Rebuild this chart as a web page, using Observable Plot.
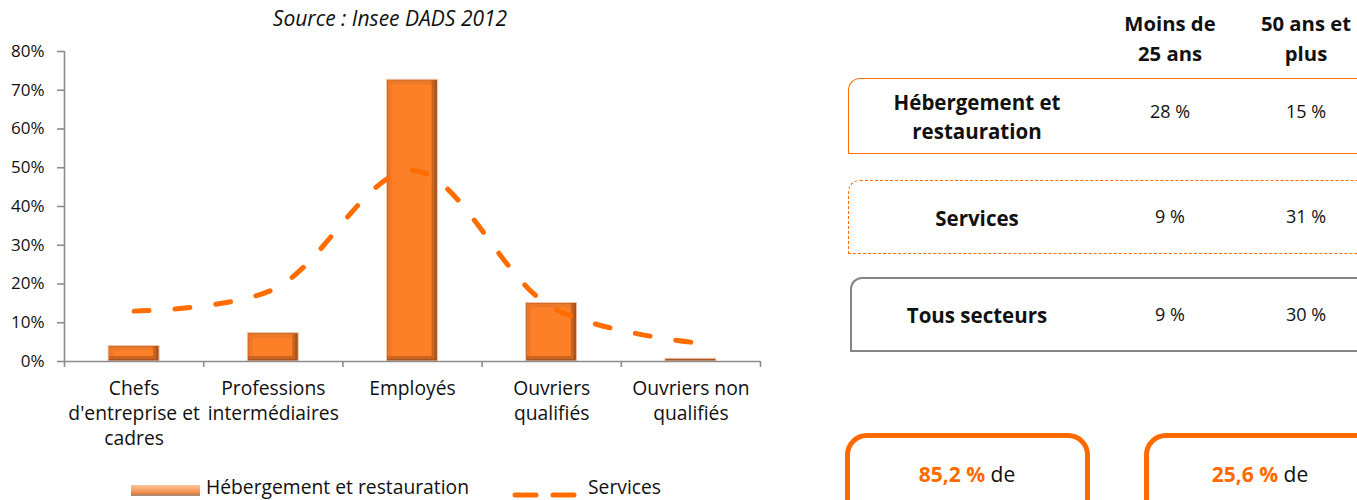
<!DOCTYPE html>
<html><head><meta charset="utf-8">
<script src="https://cdn.jsdelivr.net/npm/d3@7"></script>
<script src="https://cdn.jsdelivr.net/npm/@observablehq/plot@0.6"></script>
<style>
body{margin:0;background:#fff;font-family:"Open Sans",sans-serif;color:#111;}
#wrap{position:relative;width:1357px;height:500px;overflow:hidden;background:#fff;}
.abs{position:absolute;}
#title{left:0;width:780px;top:3px;text-align:center;font-style:italic;font-size:21px;line-height:30px;}
#chart{left:0;top:0;}
.hdr{font-weight:bold;font-size:20.3px;line-height:30px;text-align:center;width:160px;white-space:pre;}
.rowbox{box-sizing:border-box;width:700px;border-top-left-radius:12px;}
.lbl{font-weight:bold;font-size:20.5px;line-height:29px;text-align:center;width:260px;white-space:pre;}
.val{font-size:18px;text-align:center;width:120px;}
.kbox{box-sizing:border-box;border:5px solid #ff6a00;border-radius:22px;height:120px;}
.ktxt{font-size:21px;text-align:center;width:240px;}
.ktxt b{color:#ff6a00;}
.leg{font-size:19.3px;line-height:19px;top:477px;white-space:nowrap;}
</style></head><body><div id="wrap"></div>
<script>
// ---- Data ----
const categories = ["Chefs\nd'entreprise et\ncadres", "Professions\nintermédiaires", "Employés", "Ouvriers\nqualifiés", "Ouvriers non\nqualifiés"];
const hebergement = [0.040, 0.073, 0.727, 0.151, 0.007];
const services = [0.130, 0.186, 0.493, 0.140, 0.050];
const yTicks = [0, 0.1, 0.2, 0.3, 0.4, 0.5, 0.6, 0.7, 0.8];
const seriesNames = ["Hébergement et restauration", "Services"];
const sourceText = "Source : Insee DADS 2012";
const tableHeaders = ["Moins de\n25 ans", "50 ans et\nplus"];
const tableRows = ["Hébergement et\nrestauration", "Services", "Tous secteurs"];
const moins25 = ["28 %", "9 %", "9 %"];
const plus50 = ["15 %", "31 %", "30 %"];
const keyFigures = ["85,2 %", "25,6 %"];
const keySuffix = " de";

const wrap = document.getElementById("wrap");
const idx = d3.range(categories.length);
const bars = idx.map(i => ({i, v: hebergement[i]}));
const big = bars.filter(d => d.v > 0.01);
const half = 0.183;
const bx = {x1: d => d.i + 0.5 - half, x2: d => d.i + 0.5 + half, y1: 0, y2: "v"};

const chart = Plot.plot({
  width: 800, height: 460,
  marginLeft: 64, marginRight: 40, marginTop: 51, marginBottom: 99,
  x: {domain: [0, categories.length], axis: null},
  y: {domain: [0, 0.8], axis: null, label: null},
  style: {fontFamily: "Open Sans", background: "transparent", overflow: "visible"},
  marks: [
    Plot.rect(bars, {...bx, fill: "#a85420", stroke: "#f3c7ab", strokeWidth: 1}),
    Plot.rect(big, {...bx, fill: "#c8641f", insetLeft: 1, insetTop: 1, insetRight: 3, insetBottom: 2}),
    Plot.rect(big, {...bx, fill: "#ec792a", insetLeft: 1, insetTop: 1, insetRight: 6, insetBottom: 5}),
    Plot.rect(big, {...bx, fill: "#fd8029", insetLeft: 5, insetTop: 5, insetRight: 6, insetBottom: 5}),
    Plot.ruleY([0], {stroke: "#8c8c8c", strokeWidth: 1.6}),
    Plot.ruleX([0], {stroke: "#8c8c8c", strokeWidth: 1.6}),
    Plot.axisY(yTicks, {anchor: "left", label: null, tickSize: 7, tickPadding: 13, tickFormat: d3.format(".0%"), fontSize: 17, stroke: "#8c8c8c", strokeWidth: 1.6, fill: "#111"}),
    Plot.axisX(d3.range(categories.length + 1), {anchor: "bottom", label: null, tickSize: 6, tickFormat: () => "", stroke: "#8c8c8c", strokeWidth: 1.6}),
    Plot.text(idx, {x: i => i + 0.5, text: i => categories[i], frameAnchor: "bottom", lineAnchor: "top", dy: 16, fontSize: 19.3, lineHeight: 25 / 19.3, fill: "#111"}),
    Plot.line(idx, {x: i => i + 0.5, y: i => services[i], curve: "catmull-rom", stroke: "#ff6d00", strokeWidth: 5, strokeDasharray: "15,26", strokeLinecap: "round"})
  ]
});
chart.classList.add("abs");
chart.id = "chart";
wrap.appendChild(chart);

function add(cls, css, html) {
  const d = document.createElement("div");
  d.className = "abs " + cls;
  Object.assign(d.style, css);
  d.innerHTML = html;
  wrap.appendChild(d);
  return d;
}
add("", {}, "").id = "title";
document.getElementById("title").textContent = sourceText;

// Legend
add("", {left: "131px", top: "485px", width: "69px", height: "11px", background: "linear-gradient(#fcc39c,#f89a5c 55%,#e0803f 80%,#8f8f8f)"}, "");
add("leg", {left: "206px"}, "").textContent = seriesNames[0];
const ls = add("", {left: "510px", top: "484px", width: "70px", height: "12px"}, "");
ls.innerHTML = '<svg width="70" height="12"><line x1="5" y1="6" x2="66" y2="6" stroke="#ff6d00" stroke-width="5" stroke-linecap="round" stroke-dasharray="21,17"/></svg>';
add("leg", {left: "588px"}, "").textContent = seriesNames[1];

// Table
const colX = [1170, 1306];
tableHeaders.forEach((h, j) => {
  add("hdr", {left: (colX[j] - 80) + "px", top: "8px"}, "").textContent = h;
});
const boxes = [
  {top: 78, h: 76, border: "1.5px solid #ff6d00", left: 848},
  {top: 180, h: 74, border: "1.5px dashed #ff6d00", left: 848},
  {top: 277, h: 75, border: "2.5px solid #858585", left: 850}
];
tableRows.forEach((r, k) => {
  const b = boxes[k];
  add("rowbox", {left: b.left + "px", top: b.top + "px", height: b.h + "px", border: b.border, borderRight: "none"}, "");
  const mid = b.top + b.h / 2;
  const lines = r.split("\n").length;
  add("lbl", {left: (977 - 130) + "px", top: (mid + 1 - lines * 14.5) + "px"}, "").textContent = r;
  [moins25[k], plus50[k]].forEach((v, j) => {
    add("val", {left: (colX[j] - 60) + "px", top: (mid - 14 - (k === 0 ? 3 : -1)) + "px"}, "").textContent = v;
  });
});

// Key figure boxes
const kb = [{left: 845, cx: 967}, {left: 1144, cx: 1260}];
keyFigures.forEach((f, i) => {
  add("kbox", {left: kb[i].left + "px", top: "433px", width: (i === 0 ? 245 : 400) + "px"}, "");
  const t = add("ktxt", {left: (kb[i].cx - 120) + "px", top: "460px"}, "<b></b>" + keySuffix);
  t.querySelector("b").textContent = f;
});
</script></body></html>
